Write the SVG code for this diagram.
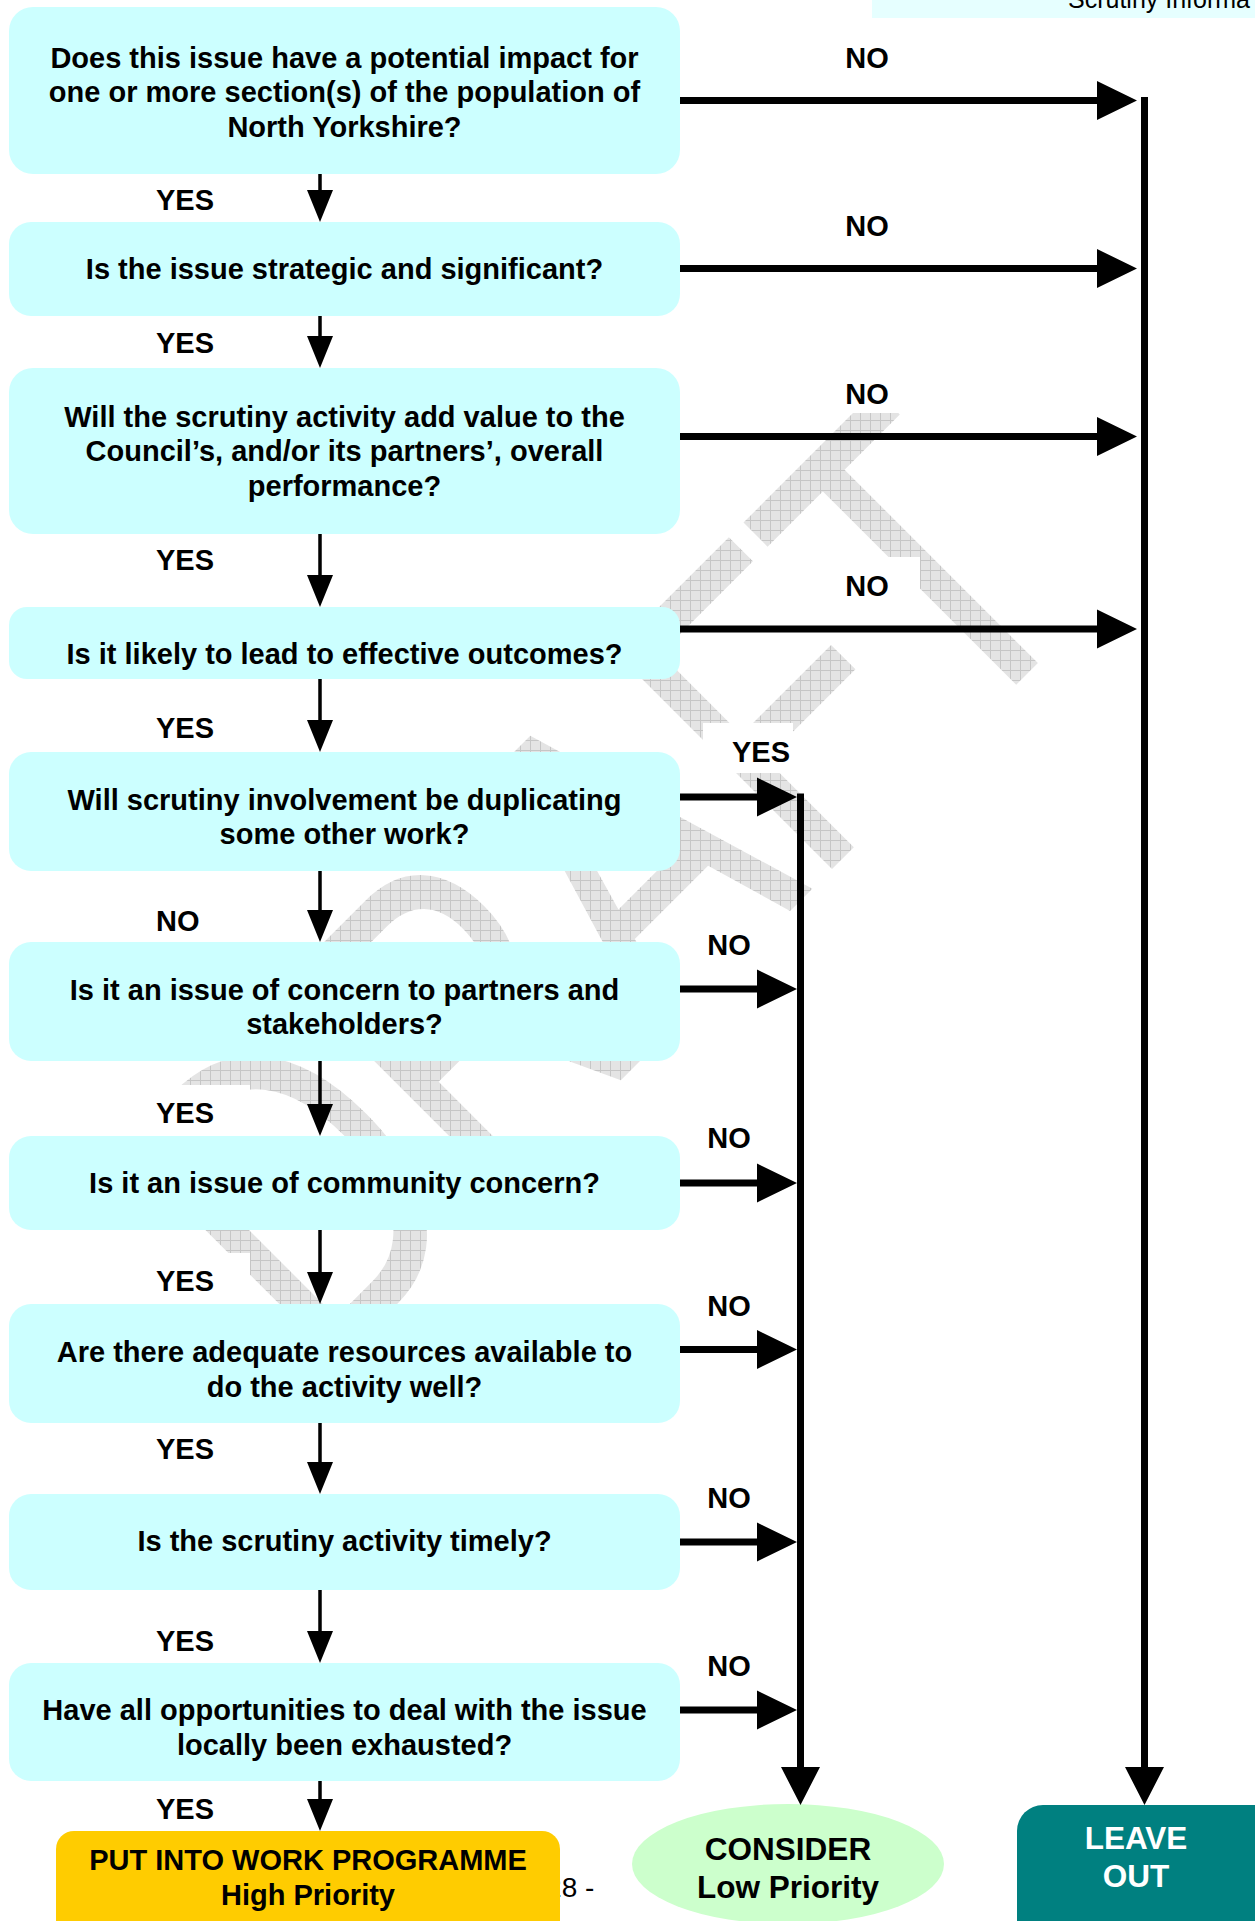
<svg xmlns="http://www.w3.org/2000/svg" width="1255" height="1921" viewBox="0 0 1255 1921">
<style>
.box{fill:#CCFFFF}
.q{font-family:"Liberation Sans",Arial,sans-serif;font-weight:bold;font-size:29px;fill:#000;text-anchor:middle}
.lbl{font-family:"Liberation Sans",Arial,sans-serif;font-weight:bold;font-size:29px;fill:#000}
.lblc{font-family:"Liberation Sans",Arial,sans-serif;font-weight:bold;font-size:29px;fill:#000;text-anchor:middle}
.big{font-family:"Liberation Sans",Arial,sans-serif;font-weight:bold;font-size:31.5px;text-anchor:middle}
.thin{stroke:#000;stroke-width:3.5;fill:none}
.thick{stroke:#000;stroke-width:7;fill:none}
.head{fill:#000}
.wbg{fill:#fff}
</style>
<defs>
<pattern id="hatch" patternUnits="userSpaceOnUse" width="10" height="10">
<rect width="10" height="10" fill="#E4E4E4"/>
<path d="M0 0.5H10M0.5 0V10" stroke="#C6C6C6" stroke-width="1"/>
</pattern>
<clipPath id="wmclip">
<text transform="translate(319,1382) rotate(-45) scale(0.74,1)" x="0" y="0" font-family="Liberation Sans, Arial, sans-serif" font-size="447">DRAFT</text>
</clipPath>
</defs>
<rect width="1255" height="1921" fill="#fff"/>
<!-- header -->
<g id="header">
<rect x="872" y="0" width="383" height="18" fill="#E6FFFF"/>
<text x="1068" y="8" font-family="Liberation Sans, Arial, sans-serif" font-size="25" fill="#000">Scrutiny Informa</text>
</g>
<!-- watermark -->
<g id="watermark">
<rect x="0" y="300" width="1255" height="1200" fill="url(#hatch)" clip-path="url(#wmclip)"/>
</g>
<!-- page number -->
<text id="pagenum" x="529" y="1897" font-family="Liberation Sans, Arial, sans-serif" font-size="28" fill="#000">- 28 -</text>
<!-- label backgrounds -->
<g id="labelbg" class="wbg">
<rect x="129" y="174" width="121" height="48"/>
<rect x="129" y="316" width="121" height="52"/>
<rect x="129" y="534" width="121" height="73"/>
<rect x="129" y="700" width="121" height="52"/>
<rect x="129" y="892" width="121" height="50"/>
<rect x="129" y="1085" width="121" height="51"/>
<rect x="129" y="1253" width="121" height="51"/>
<rect x="129" y="1423" width="121" height="71"/>
<rect x="129" y="1613" width="121" height="50"/>
<rect x="129" y="1781" width="121" height="50"/>
<rect x="815" y="30" width="105" height="50"/>
<rect x="815" y="198" width="105" height="50"/>
<rect x="815" y="366" width="105" height="47"/>
<rect x="815" y="557" width="105" height="50"/>
<rect x="703" y="723" width="90" height="50"/>
<rect x="703" y="917" width="90" height="50"/>
<rect x="703" y="1109" width="90" height="50"/>
<rect x="703" y="1277" width="90" height="50"/>
<rect x="703" y="1470" width="90" height="50"/>
<rect x="703" y="1638" width="90" height="50"/>
</g>
<!-- question nodes -->
<g id="q1"><rect class="box" x="9" y="7" width="671" height="167" rx="24"/>
<text class="q" x="344.5" y="68">Does this issue have a potential impact for</text>
<text class="q" x="344.5" y="102">one or more section(s) of the population of</text>
<text class="q" x="344.5" y="137">North Yorkshire?</text></g>
<g id="q2"><rect class="box" x="9" y="222" width="671" height="94" rx="22"/>
<text class="q" x="344.5" y="279">Is the issue strategic and significant?</text></g>
<g id="q3"><rect class="box" x="9" y="368" width="671" height="166" rx="24"/>
<text class="q" x="344.5" y="427">Will the scrutiny activity add value to the</text>
<text class="q" x="344.5" y="461">Council’s, and/or its partners’, overall</text>
<text class="q" x="344.5" y="496">performance?</text></g>
<g id="q4"><rect class="box" x="9" y="607" width="671" height="72" rx="18"/>
<text class="q" x="344.5" y="664">Is it likely to lead to effective outcomes?</text></g>
<g id="q5"><rect class="box" x="9" y="752" width="671" height="119" rx="22"/>
<text class="q" x="344.5" y="810">Will scrutiny involvement be duplicating</text>
<text class="q" x="344.5" y="844">some other work?</text></g>
<g id="q6"><rect class="box" x="9" y="942" width="671" height="119" rx="22"/>
<text class="q" x="344.5" y="1000">Is it an issue of concern to partners and</text>
<text class="q" x="344.5" y="1034">stakeholders?</text></g>
<g id="q7"><rect class="box" x="9" y="1136" width="671" height="94" rx="22"/>
<text class="q" x="344.5" y="1193">Is it an issue of community concern?</text></g>
<g id="q8"><rect class="box" x="9" y="1304" width="671" height="119" rx="22"/>
<text class="q" x="344.5" y="1362">Are there adequate resources available to</text>
<text class="q" x="344.5" y="1397">do the activity well?</text></g>
<g id="q9"><rect class="box" x="9" y="1494" width="671" height="96" rx="22"/>
<text class="q" x="344.5" y="1551">Is the scrutiny activity timely?</text></g>
<g id="q10"><rect class="box" x="9" y="1663" width="671" height="118" rx="22"/>
<text class="q" x="344.5" y="1720">Have all opportunities to deal with the issue</text>
<text class="q" x="344.5" y="1755">locally been exhausted?</text></g>
<!-- outcome nodes -->
<g id="high"><rect x="56" y="1831" width="504" height="120" rx="18" fill="#FFCC00"/>
<text class="big" x="308" y="1870" style="font-size:29px" fill="#000">PUT INTO WORK PROGRAMME</text>
<text class="big" x="308" y="1905" style="font-size:29px" fill="#000">High Priority</text></g>
<g id="low"><ellipse cx="788" cy="1864" rx="156" ry="60" fill="#CCFFCC"/>
<text class="big" x="788" y="1860" fill="#000">CONSIDER</text>
<text class="big" x="788" y="1898" fill="#000">Low Priority</text></g>
<g id="leave"><rect x="1017" y="1805" width="270" height="150" rx="26" fill="#008080"/>
<text class="big" x="1136" y="1849" fill="#fff">LEAVE</text>
<text class="big" x="1136" y="1887" fill="#fff">OUT</text></g>
<!-- connectors -->
<g id="connectors">
<path class="thin" d="M320 174V192M320 316V338M320 534V577M320 679V722M320 871V912M320 1061V1106M320 1230V1274M320 1423V1464M320 1590V1633M320 1781V1801"/>
<path class="head" d="M307 190H333L320 222ZM307 336H333L320 368ZM307 575H333L320 607ZM307 720H333L320 752ZM307 910H333L320 942ZM307 1104H333L320 1136ZM307 1272H333L320 1304ZM307 1462H333L320 1494ZM307 1631H333L320 1663ZM307 1799H333L320 1831Z"/>
<path class="thick" d="M680 100.5H1100M680 268.5H1100M680 436.5H1100M680 629H1100M1144.5 97V1770"/>
<path class="head" d="M1097 81L1137 100.5L1097 120ZM1097 249L1137 268.5L1097 288ZM1097 417L1137 436.5L1097 456ZM1097 609.5L1137 629L1097 648.5ZM1125 1767H1164L1144.5 1805Z"/>
<path class="thick" d="M680 797H760M680 989H760M680 1183H760M680 1349.5H760M680 1542H760M680 1710H760M800.5 793.5V1770"/>
<path class="head" d="M757 777.5L797 797L757 816.5ZM757 969.5L797 989L757 1008.5ZM757 1163.5L797 1183L757 1202.5ZM757 1330L797 1349.5L757 1369ZM757 1522.5L797 1542L757 1561.5ZM757 1690.5L797 1710L757 1729.5ZM781 1767H820L800.5 1805Z"/>
</g>
<!-- labels -->
<g id="labels">
<text class="lbl" x="156" y="210">YES</text>
<text class="lbl" x="156" y="353">YES</text>
<text class="lbl" x="156" y="570">YES</text>
<text class="lbl" x="156" y="738">YES</text>
<text class="lbl" x="156" y="931">NO</text>
<text class="lbl" x="156" y="1123">YES</text>
<text class="lbl" x="156" y="1291">YES</text>
<text class="lbl" x="156" y="1459">YES</text>
<text class="lbl" x="156" y="1651">YES</text>
<text class="lbl" x="156" y="1819">YES</text>
<text class="lblc" x="867" y="68">NO</text>
<text class="lblc" x="867" y="236">NO</text>
<text class="lblc" x="867" y="404">NO</text>
<text class="lblc" x="867" y="596">NO</text>
<text class="lblc" x="761" y="762">YES</text>
<text class="lblc" x="729" y="955">NO</text>
<text class="lblc" x="729" y="1148">NO</text>
<text class="lblc" x="729" y="1316">NO</text>
<text class="lblc" x="729" y="1508">NO</text>
<text class="lblc" x="729" y="1676">NO</text>
</g>
</svg>
